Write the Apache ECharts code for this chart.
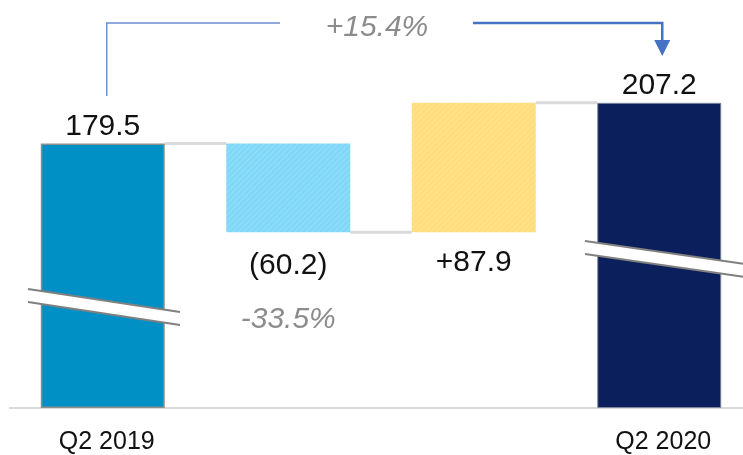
<!DOCTYPE html>
<html>
<head>
<meta charset="utf-8">
<script src="https://cdn.jsdelivr.net/npm/echarts@6/dist/echarts.min.js"></script>
<style>
  html, body { margin: 0; padding: 0; background: #fff; overflow: hidden; }
  #chart { width: 760px; height: 455px; }
</style>
</head>
<body>
<div id="chart"></div>
<script>
// data
const categories = ['Q2 2019', '', '', 'Q2 2020'];
const steps = [179.5, -60.2, 87.9, 207.2];   // first and last are totals
const barLabels = ['179.5', '(60.2)', '+87.9', '207.2'];
const barColors = ['#0090c5', '#80d7f7', '#ffdd7c', '#0a1f5b'];
const dropPct = '-33.5%';
const totalPct = '+15.4%';

// waterfall: invisible base + visible part
const base = [];
const heights = [];
const levels = [];
let running = 0;
steps.forEach((v, i) => {
  if (i === 0 || i === steps.length - 1) {
    base.push(0);
    heights.push(v);
    running = v;
  } else {
    const next = running + v;
    base.push(Math.min(running, next));
    heights.push(Math.abs(v));
    running = next;
  }
  levels.push(running);
});

const font = "'Liberation Sans', Arial, sans-serif";
const BAR_W = 124;

const barData = heights.map((h, i) => {
  const item = {
    value: h,
    itemStyle: { color: barColors[i] },
    label: {
      show: true,
      position: (i === 1 || i === 2) ? 'bottom' : 'top',
      distance: (i === 1 || i === 2) ? 15 : 2,
      formatter: barLabels[i],
      fontSize: 30,
      color: '#111',
      fontFamily: font
    }
  };
  if (i === 0) { item.itemStyle.borderColor = '#8e8e8e'; item.itemStyle.borderWidth = 1.5; }
  if (i === 3) { item.itemStyle.borderColor = '#7d879f'; item.itemStyle.borderWidth = 1; }
  if (i === 1 || i === 2) {
    item.itemStyle.decal = {
      symbol: 'rect', dashArrayX: [1, 0], dashArrayY: [1, 3],
      rotation: -Math.PI / 4, color: 'rgba(255,255,255,0.18)'
    };
  }
  if (i === 1) {
    item.label.formatter = '{v|' + barLabels[i] + '}\n{p|' + dropPct + '}';
    item.label.distance = 13;
    item.label.rich = {
      v: { fontSize: 30, color: '#111', fontFamily: font, lineHeight: 40 },
      p: { fontSize: 30, color: '#8c8c8c', fontStyle: 'italic', fontFamily: font, lineHeight: 68 }
    };
  }
  return item;
});

const connectors = [0, 1, 2].map(i => [i, levels[i]]);

const chart = echarts.init(document.getElementById('chart'));
chart.setOption({
  animation: false,
  grid: { left: 10, top: 0, width: 742, height: 408 },
  xAxis: {
    type: 'category',
    data: categories,
    axisLine: { show: true, lineStyle: { color: '#d9d9d9', width: 2 } },
    axisTick: { show: false },
    axisLabel: {
      fontSize: 25, color: '#111', fontFamily: font, margin: 22,
      padding: [0, 0, 0, 8]
    }
  },
  yAxis: { type: 'value', min: 0, max: 277, show: false },
  series: [
    {
      type: 'bar', stack: 'w', barWidth: BAR_W,
      itemStyle: { color: 'transparent' },
      silent: true,
      data: base
    },
    {
      type: 'bar', stack: 'w', barWidth: BAR_W,
      data: barData
    },
    {
      type: 'custom',
      data: connectors,
      renderItem: function (params, api) {
        const p = api.coord([api.value(0), api.value(1)]);
        const band = api.size([1, 0])[0];
        return {
          type: 'line',
          shape: { x1: p[0] + BAR_W / 2, y1: p[1], x2: p[0] + band - BAR_W / 2, y2: p[1] },
          style: { stroke: '#dadada', lineWidth: 3 }
        };
      }
    }
  ]
});

// decorations: axis breaks and total change bracket
const x0 = chart.convertToPixel({ xAxisIndex: 0 }, 0);
const x3 = chart.convertToPixel({ xAxisIndex: 0 }, 3);

function breakMark(xa, ya, xb, yb, gap) {
  return [
    {
      type: 'polygon', z: 100,
      shape: { points: [[xa, ya], [xb, yb], [xb, yb + gap], [xa, ya + gap]] },
      style: { fill: '#fff' }
    },
    { type: 'line', z: 101, shape: { x1: xa, y1: ya, x2: xb, y2: yb }, style: { stroke: '#808080', lineWidth: 2 } },
    { type: 'line', z: 101, shape: { x1: xa, y1: ya + gap, x2: xb, y2: yb + gap }, style: { stroke: '#808080', lineWidth: 2 } }
  ];
}

chart.setOption({
  graphic: [
    ...breakMark(28, 289, 180, 312, 13),
    ...breakMark(585, 241, 745, 264, 13),
    {
      type: 'polyline', z: 100,
      shape: { points: [[x0 + 4, 96], [x0 + 4, 23], [280, 23]] },
      style: { stroke: '#6e8fd2', lineWidth: 1.5, fill: null }
    },
    {
      type: 'polyline', z: 100,
      shape: { points: [[473, 23], [x3 + 3, 23], [x3 + 3, 42]] },
      style: { stroke: '#4472c4', lineWidth: 2.5, fill: null }
    },
    {
      type: 'polygon', z: 100,
      shape: { points: [[x3 + 3 - 8, 40], [x3 + 3 + 8, 40], [x3 + 3, 56]] },
      style: { fill: '#4472c4' }
    },
    {
      type: 'text', z: 100, x: 377, y: 28,
      style: {
        text: totalPct, fontSize: 30, fontStyle: 'italic', fontFamily: font,
        fill: '#8c8c8c', align: 'center', verticalAlign: 'middle'
      }
    }
  ]
});
</script>
</body>
</html>
